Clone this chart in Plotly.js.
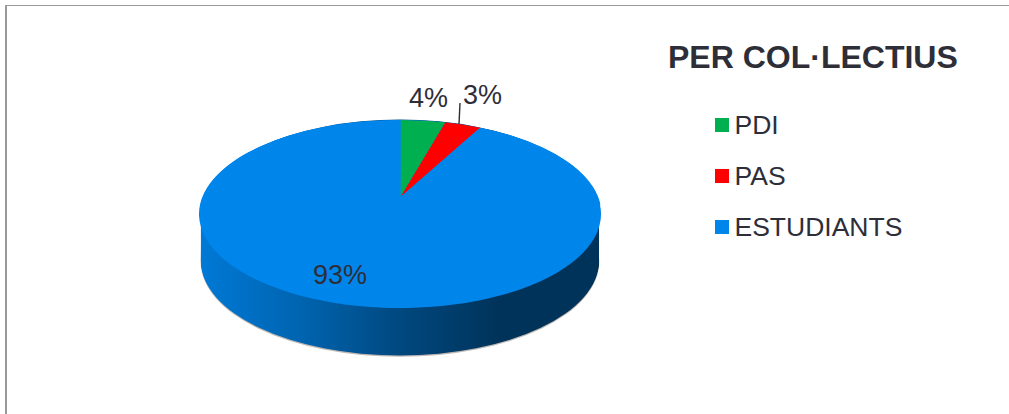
<!DOCTYPE html>
<html><head><meta charset="utf-8">
<script src="https://cdn.plot.ly/plotly-3.0.1.min.js"></script>
<style>html,body{margin:0;padding:0;background:#fff;overflow:hidden}#chart{width:1009px;height:414px}</style>
</head><body><div id="chart"></div>
<script>
const categories = ['PDI', 'PAS', 'ESTUDIANTS'];
const shares = [3.6, 3.0, 93.4];
const colors = ['#00B050', '#FF0000', '#0085EB'];
const titleText = 'PER COL\u00B7LECTIUS';

const W = 1009, H = 414;
const px = v => v / W, py = v => 1 - v / H;
const textColor = '#2E2E38', font = 'Liberation Sans, Arial, sans-serif';
const total = shares.reduce((a, b) => a + b, 0);
const pct = v => Math.round(v / total * 100) + '%';

const wallSteps = [];
for (let d = 47; d >= 0; d -= 1) wallSteps.push(d);

const common = {type: 'pie', sort: false, direction: 'clockwise', rotation: 0, textinfo: 'none',
  hoverinfo: 'skip', domain: {x: [0.2, 0.6], y: [0, 1]}};
const traces = [];
const placement = [];
// soft shadow under the rim
traces.push({...common, labels: ['shadow'], values: [total], showlegend: false,
  marker: {colors: ['#8a8078'], line: {width: 0}}});
placement.push({cx: 400, cy: 261.8, rx: 199.3, ry: 95, role: 'shadow'});
// rim of the disc
wallSteps.forEach(d => {
  traces.push({...common, labels: ['rim'], values: [total], showlegend: false,
    marker: {colors: ['#004A80'], line: {width: 0}}});
  placement.push({cx: 400, cy: 214 + d, rx: 199, ry: 94.5, role: 'wall'});
});
// top face backing
traces.push({...common, labels: categories, values: shares, showlegend: false,
  marker: {colors: [colors[2], colors[2], colors[2]], line: {width: 0}}});
placement.push({cx: 400, cy: 214, rx: 201, ry: 94, role: 'base'});
// the data slices, apex raised for the perspective view
traces.push({...common, labels: categories, values: shares, showlegend: true,
  marker: {colors: colors, line: {width: 0}}});
placement.push({cx: 400.5, cy: 197, rx: 201, ry: 77, role: 'top'});

const pctFont = {family: font, size: 27, color: textColor};
const layout = {
  width: W, height: H, margin: {l: 0, r: 0, t: 0, b: 0},
  paper_bgcolor: '#fff', plot_bgcolor: '#fff',
  title: {text: titleText, x: px(668), xref: 'paper', xanchor: 'left', y: py(57), yref: 'paper', yanchor: 'middle',
    font: {family: font, size: 32, weight: 700, color: textColor}, pad: {l: 0, r: 0, t: 0, b: 0}},
  legend: {x: px(708), y: py(100), xanchor: 'left', yanchor: 'top', bgcolor: 'rgba(0,0,0,0)',
    font: {family: font, size: 26.5, color: textColor}, traceorder: 'normal'},
  annotations: [
    {text: pct(shares[0]), x: px(428), y: py(98.5), xref: 'paper', yref: 'paper', xanchor: 'center', yanchor: 'middle', showarrow: false, font: pctFont},
    {text: pct(shares[1]), x: px(482), y: py(95), xref: 'paper', yref: 'paper', xanchor: 'center', yanchor: 'middle', showarrow: false, font: pctFont},
    {text: pct(shares[2]), x: px(340), y: py(275), xref: 'paper', yref: 'paper', xanchor: 'center', yanchor: 'middle', showarrow: false, font: pctFont}
  ],
  shapes: [
    {type: 'line', xref: 'paper', yref: 'paper', x0: px(5), x1: 1, y0: py(5.5), y1: py(5.5), line: {color: '#999', width: 1}},
    {type: 'line', xref: 'paper', yref: 'paper', x0: px(6), x1: px(6), y0: py(5), y1: 0, line: {color: '#999', width: 2}},
    {type: 'line', xref: 'paper', yref: 'paper', x0: px(460), x1: px(459), y0: py(103), y1: py(124), line: {color: '#2E2E38', width: 1.4}}
  ]
};

Plotly.newPlot('chart', traces, layout, {staticPlot: true, displayModeBar: false}).then(gd => {
  const svg = gd.querySelector('.main-svg');
  const NS = 'http://www.w3.org/2000/svg';
  const defs = document.createElementNS(NS, 'defs');
  defs.innerHTML = '<linearGradient id="wallGrad" x1="0" x2="1" y1="0" y2="0">' +
    '<stop offset="0" stop-color="#0079D6"/><stop offset="0.25" stop-color="#0064B0"/>' +
    '<stop offset="0.5" stop-color="#00487F"/><stop offset="0.75" stop-color="#00335A"/>' +
    '<stop offset="1" stop-color="#00335A"/></linearGradient>';
  svg.appendChild(defs);
  const groups = gd.querySelectorAll('.pielayer .trace');
  groups.forEach((g, i) => {
    const cd = gd.calcdata[i][0], p = placement[i];
    const cx = cd.cx, cy = cd.cy, r = cd.r;
    const sx = p.rx / r, sy = p.ry / r;
    g.setAttribute('transform', `translate(${p.cx},${p.cy}) scale(${sx},${sy}) translate(${-cx},${-cy})`);
    if (p.role === 'wall') g.querySelectorAll('path').forEach(s => s.style.fill = 'url(#wallGrad)');
    if (p.role === 'shadow') g.style.opacity = 0.55;
    if (p.role === 'top') {
      const clip = document.createElementNS(NS, 'clipPath');
      clip.setAttribute('id', 'faceClip');
      const e = document.createElementNS(NS, 'ellipse');
      e.setAttribute('cx', cx);
      e.setAttribute('cy', cy + (214 - p.cy) / sy);
      e.setAttribute('rx', r);
      e.setAttribute('ry', 94 / sy);
      clip.appendChild(e);
      defs.appendChild(clip);
      g.setAttribute('clip-path', 'url(#faceClip)');
    }
  });
  // legend rows are spaced wider than the library default
  const sb = gd.querySelector('.legend .scrollbox');
  if (sb) sb.removeAttribute('clip-path');
  const lg = gd.querySelector('.legend');
  lg.setAttribute('transform', 'translate(0,0)');
  gd.querySelectorAll('.legend .traces').forEach((t, i) => {
    t.setAttribute('transform', `translate(722,${125 + i * 51})`);
    const sym = t.querySelector('.legendpie, .legendpoints path, path');
    if (sym) { sym.setAttribute('transform', 'scale(1.17)'); }
    const tx = t.querySelector('text');
    if (tx) { tx.setAttribute('x', 12.5); tx.setAttribute('y', 9); }
  });
});
</script></body></html>
